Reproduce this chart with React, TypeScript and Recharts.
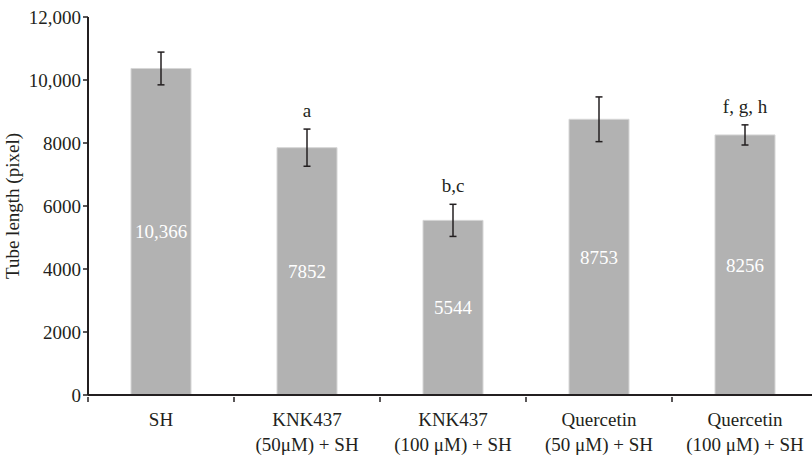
import React from "react";
import { BarChart, Bar, XAxis, YAxis, ErrorBar, LabelList } from "recharts";

const groupNames = ["SH", "KNK437", "KNK437", "Quercetin", "Quercetin"];
const groupDoses = ["", "(50μM) + SH", "(100 μM) + SH", "(50 μM) + SH", "(100 μM) + SH"];
const tubeLength = [10366, 7852, 5544, 8753, 8256];
const tubeError = [520, 590, 510, 710, 320];
const significance = ["", "a", "b,c", "", "f, g, h"];
const yTicks = [0, 2000, 4000, 6000, 8000, 10000, 12000];

const data = groupNames.map((name, i) => ({
  name: `${name} ${groupDoses[i]}`,
  value: tubeLength[i],
  err: tubeError[i],
  mark: significance[i],
}));

const FONT = '"Liberation Serif", "DejaVu Serif", serif';
const INK = "#231f20";

function fmt(v: number) {
  return v >= 10000 ? v.toLocaleString("en-US") : String(v);
}

function CategoryTick(props: any) {
  const { x, y, payload, index } = props;
  const i = payload?.index ?? index;
  const half = payload?.offset || 73;
  return (
    <g>
      <line x1={x - half} x2={x - half} y1={y} y2={y + 5} stroke={INK} strokeWidth={1.5} />
      <text x={x} y={y + 29} textAnchor="middle" fill={INK} fontSize={19} fontFamily={FONT}>
        {groupNames[i]}
      </text>
      {groupDoses[i] ? (
        <text x={x} y={y + 54} textAnchor="middle" fill={INK} fontSize={19} fontFamily={FONT}>
          {groupDoses[i]}
        </text>
      ) : null}
    </g>
  );
}

function MarkLabel(props: any) {
  const { x, y, width, height, index } = props;
  const mark = significance[index];
  if (!mark) return null;
  const perUnit = height / tubeLength[index];
  const errTop = y - tubeError[index] * perUnit;
  return (
    <text x={x + width / 2} y={errTop - 12} textAnchor="middle" fill={INK} fontSize={19} fontFamily={FONT}>
      {mark}
    </text>
  );
}

export default function App() {
  return (
    <div style={{ position: "fixed", left: 0, top: 0, width: 812, height: 455, overflow: "hidden", background: "#fff" }}>
      <BarChart width={830} height={455} data={data} margin={{ top: 17, right: 12, bottom: 0, left: 0 }}>
        <YAxis
          width={88}
          domain={[0, 12000]}
          ticks={yTicks}
          tickFormatter={fmt}
          tick={{ fill: INK, fontSize: 19, fontFamily: FONT }}
          tickSize={5}
          tickMargin={2}
          axisLine={{ stroke: INK, strokeWidth: 2 }}
          tickLine={{ stroke: INK, strokeWidth: 1.5 }}
          label={{
            value: "Tube length (pixel)",
            angle: -90,
            position: "insideLeft",
            offset: 12,
            style: { textAnchor: "middle", fill: INK, fontSize: 19, fontFamily: FONT },
          }}
        />
        <XAxis
          dataKey="name"
          interval={0}
          height={60}
          tickSize={0}
          tickLine={false}
          axisLine={{ stroke: INK, strokeWidth: 2 }}
          tick={<CategoryTick />}
        />
        <Bar dataKey="value" fill="#b2b2b2" stroke="#d6d6d6" strokeWidth={1} barSize={60} isAnimationActive={false}>
          <ErrorBar dataKey="err" width={3.5} stroke={INK} strokeWidth={1.5} direction="y" />
          <LabelList
            dataKey="value"
            position="center"
            formatter={(v: any) => Number(v).toLocaleString("en-US").replace(/^(\d),(\d{3})$/, "$1$2")}
            fill="#ffffff"
            fontSize={19}
            fontFamily={FONT}
          />
          <LabelList dataKey="mark" content={<MarkLabel />} />
        </Bar>
      </BarChart>
    </div>
  );
}
